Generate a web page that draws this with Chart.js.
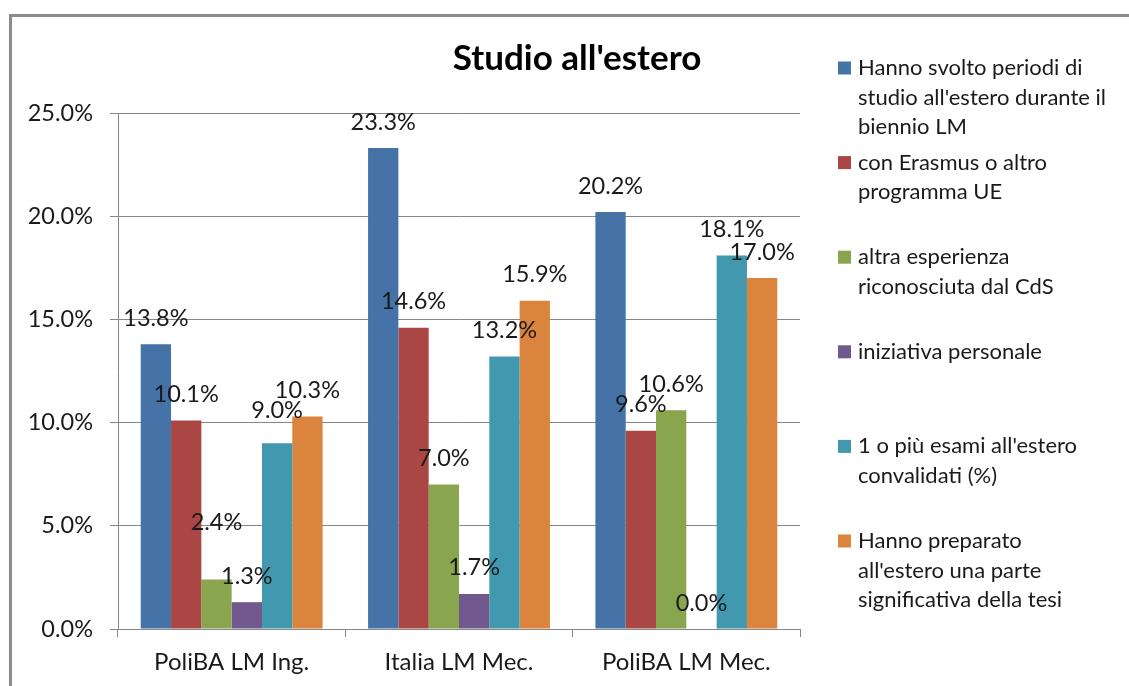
<!DOCTYPE html>
<html>
<head>
<meta charset="utf-8">
<script src="https://cdn.jsdelivr.net/npm/chart.js"></script>
<style>
  html, body { margin: 0; padding: 0; background: #fff; }
  #frame {
    position: absolute; left: 9px; top: 14px; right: 0; bottom: 0;
    border-left: 3px solid #8c8c8c; border-top: 3px solid #8c8c8c;
  }
  #myChart { position: absolute; left: 0; top: 0; }
</style>
</head>
<body>
<div id="frame"></div>
<canvas id="myChart" width="1129" height="686"></canvas>
<script>
const ctx = document.getElementById('myChart').getContext('2d');

const FONT = 'Lato, "Open Sans", sans-serif';

// categories + series (values in %)
const labels = ['PoliBA LM Ing.', 'Italia LM Mec.', 'PoliBA LM Mec.'];

const periodiEstero = [13.8, 23.3, 20.2];
const erasmusUE = [10.1, 14.6, 9.6];
const altraEsperienza = [2.4, 7.0, 10.6];
const iniziativaPersonale = [1.3, 1.7, 0.0];
const esamiConvalidati = [9.0, 13.2, 18.1];
const tesiEstero = [10.3, 15.9, 17.0];

const yTicks = [0, 5, 10, 15, 20, 25];

const legendLines = [
    ['Hanno svolto periodi di', "studio all'estero durante il", 'biennio LM'],
    ['con Erasmus o altro', 'programma UE'],
    ['altra esperienza', 'riconosciuta dal CdS'],
    ['iniziativa personale'],
    ["1 o più esami all'estero", 'convalidati (%)'],
    ['Hanno preparato', "all'estero una parte", 'significativa della tesi'],
];

const colors = ['#4572A7', '#AA4643', '#89A54E', '#71588F', '#4198AF', '#DB843D'];

const series = [periodiEstero, erasmusUE, altraEsperienza, iniziativaPersonale, esamiConvalidati, tesiEstero];

const data = {
    labels,
    datasets: series.map((values, i) => ({
        label: legendLines[i].join(' '),
        data: values,
        backgroundColor: colors[i],
        borderWidth: 0,
    })),
};

// a couple of labels were moved by hand in the original
const labelNudge = { '2,0': -31, '4,0': -7 };

const valueLabels = {
    id: 'valueLabels',
    afterDatasetsDraw(chart) {
        const c = chart.ctx;
        c.save();
        c.font = '23.5px ' + FONT;
        c.fillStyle = '#1a1a1a';
        c.textAlign = 'center';
        c.textBaseline = 'middle';
        chart.data.datasets.forEach((ds, di) => {
            chart.getDatasetMeta(di).data.forEach((bar, i) => {
                const dy = labelNudge[di + ',' + i] || 0;
                c.fillText(ds.data[i].toFixed(1) + '%', bar.x, bar.y - 26 + dy);
            });
        });
        c.restore();
    }
};

const titleAndLegend = {
    id: 'titleAndLegend',
    afterDraw(chart) {
        const c = chart.ctx;
        c.save();
        c.fillStyle = '#000';
        c.textAlign = 'center';
        c.textBaseline = 'middle';
        c.font = 'bold 35px ' + FONT;
        c.fillText("Studio all'estero", 577, 59);

        c.textAlign = 'left';
        c.font = '22px ' + FONT;
        legendLines.forEach((lines, i) => {
            const y0 = 68 + i * 94.6;
            c.fillStyle = colors[i];
            c.fillRect(838, y0 - 6.5, 13, 13);
            c.fillStyle = '#1a1a1a';
            lines.forEach((t, j) => c.fillText(t, 858, y0 + j * 29.5));
        });
        c.restore();
    }
};

const config = {
    type: 'bar',
    data: data,
    options: {
        responsive: false,
        animation: false,
        layout: { padding: { left: 0, right: 329, top: 113, bottom: 0 } },
        plugins: {
            legend: { display: false },
            title: { display: false },
            tooltip: { enabled: false },
        },
        datasets: {
            bar: { categoryPercentage: 0.8, barPercentage: 1.0 }
        },
        scales: {
            x: {
                afterFit: (scale) => { scale.height = 57; },
                grid: {
                    offset: true,
                    drawOnChartArea: false,
                    tickLength: 8,
                    color: '#868686',
                },
                border: { color: '#868686' },
                ticks: {
                    color: '#1a1a1a',
                    font: { family: FONT, size: 24 },
                    padding: 11,
                }
            },
            y: {
                min: 0,
                max: 25,
                afterFit: (scale) => { scale.width = 118; },
                afterBuildTicks: (scale) => { scale.ticks = yTicks.map(v => ({ value: v })); },
                grid: { color: '#868686', tickLength: 8 },
                border: { color: '#868686' },
                ticks: {
                    color: '#1a1a1a',
                    font: { family: FONT, size: 23.5 },
                    padding: 17,
                    callback: (v) => v.toFixed(1) + '%',
                }
            }
        },
    },
    plugins: [valueLabels, titleAndLegend],
};

const myChart = new Chart(ctx, config);
</script>
</body>
</html>
